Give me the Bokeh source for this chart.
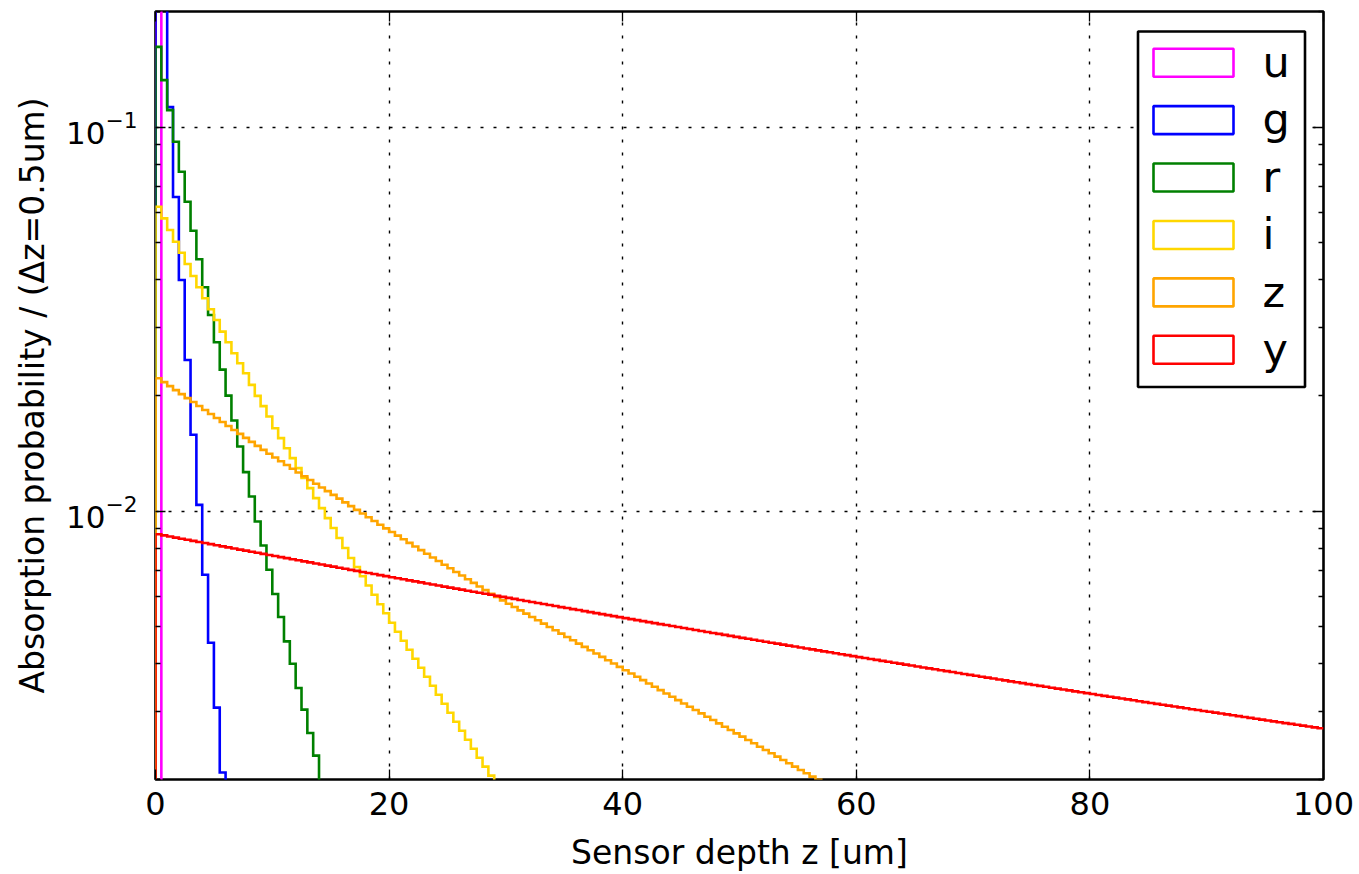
import numpy as np
from bokeh.plotting import figure
from bokeh.models import (Range1d, LinearAxis, LogAxis, FixedTicker, Label,
                          BoxAnnotation, CustomJSTickFormatter, ColumnDataSource)
from bokeh.embed import file_html
from bokeh.resources import INLINE

# ---------------------------------------------------------------------------
# Absorption probability per 0.5 um depth bin (bin k covers [0.5k, 0.5k+0.5])
# ---------------------------------------------------------------------------
bin_width = 0.5            # um
depth_range = (0.0, 100.0)  # um
prob_range = (0.002, 0.2)

bands = ["u", "g", "r", "i", "z", "y"]
band_colors = ["#FF00FF", "#0000FF", "#008000", "#FFD700", "#FFA500", "#FF0000"]

u_prob = [0.985, 0.0012]

g_prob = [0.40, 0.24, 0.1127, 0.06574, 0.03998, 0.02475, 0.01580, 0.01038,
          0.006830, 0.004542, 0.003077, 0.002085, 0.00140]

r_prob = [0.1618, 0.1325, 0.1107, 0.09157, 0.07652, 0.06392, 0.05372, 0.04526,
          0.03827, 0.03242, 0.02753, 0.02336, 0.01999, 0.01721, 0.01473, 0.01263,
          0.01091, 0.009396, 0.008137, 0.007037, 0.006082, 0.005299, 0.004578,
          0.004005, 0.003463, 0.003040, 0.002644, 0.002308, 0.00198]

i_prob = [0.06204, 0.05786, 0.05395, 0.05029, 0.04709, 0.04400, 0.04095, 0.03827,
          0.03583, 0.03354, 0.03146, 0.02933, 0.02753, 0.02577, 0.02427, 0.02286,
          0.02131, 0.01995, 0.01876, 0.01763, 0.01644, 0.01549, 0.01458, 0.01374,
          0.01294, 0.01219, 0.01148, 0.01081, 0.01018, 0.009590, 0.009033, 0.008507,
          0.008012, 0.007546, 0.007149, 0.006764, 0.006401, 0.006055, 0.005720,
          0.005420, 0.005119, 0.004850, 0.004595, 0.004354, 0.004125, 0.003909,
          0.003703, 0.003509, 0.003325, 0.003150, 0.002985, 0.002828, 0.002680,
          0.002539, 0.002405, 0.002279, 0.002160, 0.002047, 0.00194]

z_prob = [
    22.188e-3, 21.665e-3, 21.154e-3, 20.655e-3, 20.167e-3, 19.692e-3, 19.227e-3, 18.774e-3, 18.331e-3, 17.899e-3,
    17.476e-3, 17.064e-3, 16.662e-3, 16.269e-3, 15.885e-3, 15.510e-3, 15.144e-3, 14.787e-3, 14.438e-3, 14.098e-3,
    13.786e-3, 13.480e-3, 13.182e-3, 12.890e-3, 12.605e-3, 12.326e-3, 12.053e-3, 11.786e-3, 11.525e-3, 11.270e-3,
    11.020e-3, 10.776e-3, 10.538e-3, 10.304e-3, 10.076e-3, 9.853e-3, 9.635e-3, 9.422e-3, 9.213e-3, 9.015e-3,
    8.821e-3, 8.631e-3, 8.445e-3, 8.263e-3, 8.085e-3, 7.911e-3, 7.741e-3, 7.574e-3, 7.411e-3, 7.252e-3,
    7.096e-3, 6.943e-3, 6.794e-3, 6.647e-3, 6.504e-3, 6.364e-3, 6.227e-3, 6.093e-3, 5.973e-3, 5.855e-3,
    5.739e-3, 5.626e-3, 5.515e-3, 5.406e-3, 5.300e-3, 5.195e-3, 5.092e-3, 4.992e-3, 4.893e-3, 4.797e-3,
    4.702e-3, 4.609e-3, 4.518e-3, 4.429e-3, 4.342e-3, 4.256e-3, 4.172e-3, 4.090e-3, 4.009e-3, 3.930e-3,
    3.852e-3, 3.776e-3, 3.702e-3, 3.629e-3, 3.557e-3, 3.487e-3, 3.418e-3, 3.351e-3, 3.284e-3, 3.220e-3,
    3.156e-3, 3.094e-3, 3.033e-3, 2.973e-3, 2.914e-3, 2.857e-3, 2.800e-3, 2.745e-3, 2.691e-3, 2.638e-3,
    2.586e-3, 2.535e-3, 2.485e-3, 2.435e-3, 2.387e-3, 2.340e-3, 2.294e-3, 2.249e-3, 2.204e-3, 2.161e-3,
    2.118e-3, 2.076e-3, 2.035e-3, 1.995e-3,
]

y_prob = [
    8.700e-3, 8.643e-3, 8.587e-3, 8.531e-3, 8.475e-3, 8.420e-3, 8.365e-3, 8.310e-3, 8.256e-3, 8.202e-3,
    8.147e-3, 8.095e-3, 8.043e-3, 7.991e-3, 7.939e-3, 7.888e-3, 7.837e-3, 7.787e-3, 7.737e-3, 7.687e-3,
    7.639e-3, 7.590e-3, 7.542e-3, 7.494e-3, 7.446e-3, 7.399e-3, 7.351e-3, 7.305e-3, 7.258e-3, 7.212e-3,
    7.166e-3, 7.121e-3, 7.076e-3, 7.031e-3, 6.987e-3, 6.943e-3, 6.899e-3, 6.856e-3, 6.813e-3, 6.770e-3,
    6.727e-3, 6.685e-3, 6.644e-3, 6.602e-3, 6.561e-3, 6.520e-3, 6.480e-3, 6.439e-3, 6.399e-3, 6.359e-3,
    6.320e-3, 6.281e-3, 6.243e-3, 6.204e-3, 6.166e-3, 6.128e-3, 6.090e-3, 6.053e-3, 6.016e-3, 5.979e-3,
    5.942e-3, 5.906e-3, 5.870e-3, 5.834e-3, 5.799e-3, 5.763e-3, 5.728e-3, 5.694e-3, 5.659e-3, 5.624e-3,
    5.591e-3, 5.557e-3, 5.524e-3, 5.490e-3, 5.457e-3, 5.425e-3, 5.392e-3, 5.360e-3, 5.327e-3, 5.295e-3,
    5.264e-3, 5.232e-3, 5.201e-3, 5.171e-3, 5.140e-3, 5.109e-3, 5.079e-3, 5.049e-3, 5.019e-3, 4.989e-3,
    4.960e-3, 4.931e-3, 4.902e-3, 4.873e-3, 4.844e-3, 4.816e-3, 4.788e-3, 4.760e-3, 4.732e-3, 4.704e-3,
    4.677e-3, 4.650e-3, 4.623e-3, 4.596e-3, 4.569e-3, 4.543e-3, 4.517e-3, 4.490e-3, 4.464e-3, 4.439e-3,
    4.413e-3, 4.388e-3, 4.363e-3, 4.338e-3, 4.313e-3, 4.288e-3, 4.264e-3, 4.240e-3, 4.215e-3, 4.191e-3,
    4.167e-3, 4.144e-3, 4.121e-3, 4.097e-3, 4.074e-3, 4.051e-3, 4.028e-3, 4.006e-3, 3.983e-3, 3.961e-3,
    3.938e-3, 3.916e-3, 3.895e-3, 3.873e-3, 3.851e-3, 3.830e-3, 3.809e-3, 3.787e-3, 3.766e-3, 3.745e-3,
    3.725e-3, 3.704e-3, 3.684e-3, 3.664e-3, 3.643e-3, 3.623e-3, 3.603e-3, 3.584e-3, 3.564e-3, 3.544e-3,
    3.525e-3, 3.506e-3, 3.487e-3, 3.468e-3, 3.449e-3, 3.431e-3, 3.412e-3, 3.393e-3, 3.375e-3, 3.357e-3,
    3.339e-3, 3.321e-3, 3.303e-3, 3.285e-3, 3.268e-3, 3.250e-3, 3.233e-3, 3.216e-3, 3.198e-3, 3.181e-3,
    3.164e-3, 3.148e-3, 3.131e-3, 3.115e-3, 3.098e-3, 3.082e-3, 3.066e-3, 3.049e-3, 3.033e-3, 3.017e-3,
    3.002e-3, 2.986e-3, 2.970e-3, 2.955e-3, 2.940e-3, 2.924e-3, 2.909e-3, 2.894e-3, 2.879e-3, 2.864e-3,
    2.849e-3, 2.834e-3, 2.820e-3, 2.805e-3, 2.791e-3, 2.777e-3, 2.763e-3, 2.748e-3, 2.734e-3, 2.720e-3,
]

band_probs = [u_prob, g_prob, r_prob, i_prob, z_prob, y_prob]

x_ticks = [0, 20, 40, 60, 80, 100]
x_grid_ticks = [20, 40, 60, 80]
y_ticks = [0.01, 0.1]
y_minor_ticks = [0.002, 0.003, 0.004, 0.005, 0.006, 0.007, 0.008, 0.009,
                 0.02, 0.03, 0.04, 0.05, 0.06, 0.07, 0.08, 0.09, 0.2]

x_title = "Sensor depth z [um]"
y_title = "Absorption probability / (\u0394z=0.5um)"

# ---------------------------------------------------------------------------
# Page geometry (pixels)
# ---------------------------------------------------------------------------
W, H = 1359, 874
FL, FT, FW, FH = 155, 11, 1168, 768
FONT = "DejaVu Sans"
LW = 2.6


def data_x(px):
    return depth_range[0] + (px - FL) / FW * (depth_range[1] - depth_range[0])


def data_y(py):
    lo, hi = np.log10(prob_range)
    return 10 ** (hi - (py - FT) / FH * (hi - lo))


def step_outline(prob, floor=prob_range[0] / 20):
    """Outline of a step histogram: up at the first edge, across each bin,
    and down again after the last bin unless it ends on the right edge."""
    xs, ys = [depth_range[0]], [floor]
    for k, v in enumerate(prob):
        x0 = depth_range[0] + k * bin_width
        xs += [x0, x0 + bin_width]
        ys += [v, v]
    end = depth_range[0] + len(prob) * bin_width
    if end < depth_range[1]:
        xs.append(end)
        ys.append(floor)
    return xs, ys


p = figure(width=W, height=H, x_range=Range1d(*depth_range), y_range=Range1d(*prob_range),
           y_axis_type="log", output_backend="svg", toolbar_location=None, title=None,
           min_border_left=FL, min_border_top=FT,
           min_border_right=W - FL - FW, min_border_bottom=H - FT - FH)
p.background_fill_color = "white"
p.border_fill_color = "white"
p.outline_line_color = "black"
p.outline_line_width = LW
p.outline_line_alpha = 1.0

# grid: dotted lines at the major ticks
p.xgrid.ticker = FixedTicker(ticks=x_grid_ticks)
p.ygrid.ticker = FixedTicker(ticks=y_ticks)
for g in (p.xgrid[0], p.ygrid[0]):
    g.grid_line_color = "black"
    g.grid_line_alpha = 1.0
    g.grid_line_width = 1.4
    g.grid_line_dash = "3 10"

blank = CustomJSTickFormatter(code="return ''")


def style_axis(ax, show_labels=False, label_px="32px"):
    ax.axis_line_color = None
    ax.major_tick_in = 10
    ax.major_tick_out = 0
    ax.minor_tick_in = 5
    ax.minor_tick_out = 0
    ax.major_tick_line_color = "black"
    ax.minor_tick_line_color = "black"
    ax.major_tick_line_width = 1.3
    ax.minor_tick_line_width = 1.3
    if show_labels:
        ax.major_label_text_font = FONT
        ax.major_label_text_font_size = label_px
        ax.major_label_text_color = "black"
        ax.axis_label_text_font = FONT
        ax.axis_label_text_font_size = "33px"
        ax.axis_label_text_font_style = "normal"
        ax.axis_label_text_color = "black"
    else:
        ax.formatter = blank
        ax.major_label_text_font_size = "0px"
        ax.major_label_standoff = 0


xb = p.xaxis[0]
xb.ticker = FixedTicker(ticks=x_ticks, minor_ticks=[])
style_axis(xb, show_labels=True)
xb.major_label_standoff = 12
xb.axis_label = x_title
xb.axis_label_standoff = 15

yl = p.yaxis[0]
yl.ticker = FixedTicker(ticks=y_ticks, minor_ticks=y_minor_ticks)
style_axis(yl, show_labels=True, label_px="31px")
yl.major_label_standoff = 18
yl.axis_label = y_title
yl.axis_label_standoff = 11

xt = LinearAxis(ticker=FixedTicker(ticks=x_ticks, minor_ticks=[]))
style_axis(xt)
p.add_layout(xt, "above")

yr = LogAxis(ticker=FixedTicker(ticks=y_ticks, minor_ticks=y_minor_ticks))
style_axis(yr)
p.add_layout(yr, "right")

# histogram outlines
for band, color, prob in zip(bands, band_colors, band_probs):
    xs, ys = step_outline(prob)
    src = ColumnDataSource(data=dict(x=xs, y=ys))
    p.line("x", "y", source=src, line_color=color, line_width=LW, line_join="miter")

# legend: framed box with hollow swatches
leg_left, leg_right, leg_top, leg_bottom = 1137.5, 1304.5, 31.0, 386.5
p.add_layout(BoxAnnotation(left=data_x(leg_left), right=data_x(leg_right),
                           top=data_y(leg_top), bottom=data_y(leg_bottom),
                           fill_color="white", fill_alpha=1.0,
                           line_color="black", line_width=LW, line_alpha=1.0))
first_center, pitch = 62.2, 57.42
for k, (band, color) in enumerate(zip(bands, band_colors)):
    cy = first_center + k * pitch
    p.add_layout(BoxAnnotation(left=data_x(1153), right=data_x(1233),
                               top=data_y(cy - 14), bottom=data_y(cy + 14),
                               fill_alpha=0.0, line_color=color, line_width=LW,
                               line_alpha=1.0))
    p.add_layout(Label(x=data_x(1262), y=data_y(cy - 0.8), text=band,
                       text_align="left", text_baseline="alphabetic",
                       text_font=FONT, text_font_size="43px", text_color="black"))

open("out.html", "w").write(file_html(p, INLINE))
